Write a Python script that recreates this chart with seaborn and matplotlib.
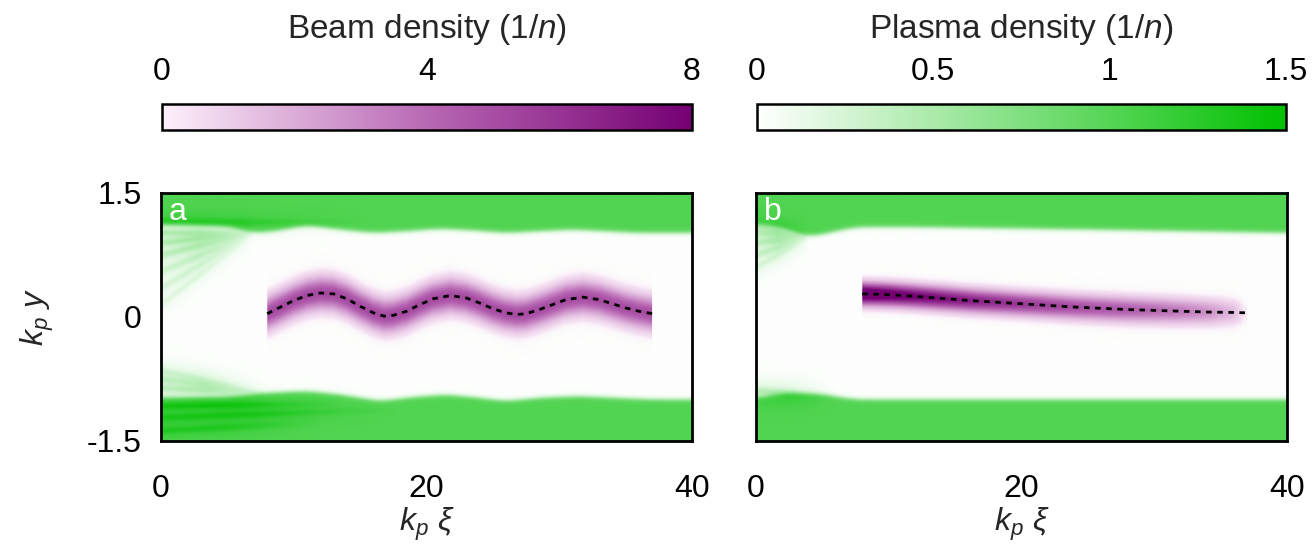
import numpy as np
import matplotlib
matplotlib.use("Agg")
import matplotlib.pyplot as plt
from matplotlib.colors import LinearSegmentedColormap, Normalize
from matplotlib.cm import ScalarMappable
import seaborn as sns

# ---------------- data ----------------
xi_ticks = [0, 20, 40]
xi_tick_labels = ["0", "20", "40"]
y_ticks = [-1.5, 0, 1.5]
y_tick_labels = ["-1.5", "0", "1.5"]
beam_cbar_ticks = [0, 4, 8]
beam_cbar_labels = ["0", "4", "8"]
plasma_cbar_ticks = [0, 0.5, 1, 1.5]
plasma_cbar_labels = ["0", "0.5", "1", "1.5"]
panel_labels = ["a", "b"]

# beam centroid (dashed lines)
cent_a_x = [8.0, 9.0, 10.0, 11.0, 12.0, 13.0, 14.0, 15.0, 16.0, 16.8, 17.5, 18.5,
            19.5, 20.5, 21.8, 23.0, 24.0, 25.0, 26.0, 26.8, 27.5, 28.5, 29.5,
            30.5, 31.8, 33.0, 34.0, 35.0, 36.0, 37.0]
cent_a_y = [0.04, 0.12, 0.20, 0.26, 0.29, 0.28, 0.22, 0.13, 0.05, 0.01, 0.02, 0.07,
            0.15, 0.22, 0.26, 0.23, 0.17, 0.10, 0.05, 0.03, 0.04, 0.09, 0.15,
            0.21, 0.24, 0.21, 0.16, 0.11, 0.07, 0.04]
cent_b_x = [8, 10, 12, 14, 16, 18, 20, 22, 24, 26, 28, 30, 32, 34, 36, 37]
cent_b_y = [0.28, 0.27, 0.25, 0.225, 0.20, 0.18, 0.16, 0.14, 0.12, 0.105, 0.09,
            0.08, 0.07, 0.06, 0.055, 0.05]

# beam peak density and rms width along xi
beam_a_x = [8.0, 37.0]
beam_a_peak = [5.2, 5.0]
beam_a_sigma = [0.13, 0.13]
beam_b_x = [8.0, 12.0, 16.0, 20.0, 24.0, 28.0, 32.0, 34.0, 36.0, 36.8]
beam_b_peak = [10.0, 8.0, 6.8, 5.8, 5.0, 4.4, 3.5, 2.8, 1.6, 0.4]
beam_b_sigma = [0.085, 0.088, 0.09, 0.092, 0.095, 0.098, 0.1, 0.1, 0.1, 0.1]
beam_span_a = [8.0, 37.0]
beam_span_b = [8.0, 37.0]

# plasma channel boundaries
upper_a_x = [0, 5, 7, 8.5, 11, 13.5, 16, 18.5, 21, 23.5, 26, 28.5, 31, 33.5, 36, 40]
upper_a_y = [1.12, 1.10, 1.02, 1.04, 1.11, 1.06, 1.02, 1.04, 1.07, 1.05, 1.02,
             1.04, 1.06, 1.04, 1.02, 1.02]
lower_a_x = [0, 5, 8, 11, 13.5, 16.5, 19, 21.5, 24, 26, 28.5, 31.5, 34, 37, 40]
lower_a_y = [-0.98, -0.97, -0.92, -0.90, -0.94, -1.02, -0.97, -0.94, -0.98, -1.02,
             -0.98, -0.96, -0.98, -1.0, -1.0]
upper_b_x = [0, 2, 4, 7.5, 12, 25, 40]
upper_b_y = [1.13, 1.08, 0.97, 1.09, 1.09, 1.06, 1.02]
lower_b_x = [0, 2, 5, 7.5, 40]
lower_b_y = [-0.98, -0.93, -0.94, -1.0, -1.0]

# faint / dense electron streaks: (x0, y0, x1, y1, density)
streaks_a = [(0, 0.15, 7.0, 1.02, 0.10), (0, 0.35, 7.0, 1.02, 0.13),
             (0, 0.55, 7.0, 1.02, 0.16), (0, 0.75, 7.0, 1.02, 0.2),
             (0, 0.90, 7.0, 1.02, 0.22), (0, 1.02, 7.0, 1.02, 0.22),
             (0, -0.65, 8.0, -0.93, 0.14), (0, -0.75, 8.0, -0.93, 0.17),
             (0, -0.86, 8.0, -0.93, 0.2),
             (0, -1.08, 14.0, -1.05, 0.2), (0, -1.22, 18.0, -1.12, 0.17),
             (0, -1.38, 12.0, -1.28, 0.17), (0, 1.16, 16.0, 1.14, 0.14)]
streaks_b = [(0, 0.60, 4.0, 0.97, 0.12), (0, 0.75, 4.0, 0.97, 0.16),
             (0, 0.90, 4.0, 0.97, 0.19), (0, 1.02, 4.0, 0.97, 0.19),
             (0, 1.10, 4.0, 0.97, 0.17),
             (0, -0.88, 6.0, -0.95, 0.15), (0, -0.92, 6.0, -0.95, 0.16)]

# ---------------- style ----------------
sns.set_theme(style="white")
plt.rcParams["font.family"] = ["Liberation Sans", "DejaVu Sans"]
plt.rcParams["mathtext.fontset"] = "custom"
plt.rcParams["mathtext.rm"] = "Liberation Sans"
plt.rcParams["mathtext.it"] = "Liberation Sans:italic"
FS = 23

beam_cmap = LinearSegmentedColormap.from_list(
    "beam", [(0.0, "#fdf0fb"), (0.5, "#b868b4"), (1.0, "#750073")])
plasma_cmap = LinearSegmentedColormap.from_list(
    "plasma_g", [(0.0, "#ffffff"), (1.0, "#00c000")])
beam_norm = Normalize(0, 8)
plasma_norm = Normalize(0, 1.5)

xg = np.linspace(0, 40, 801)
yg = np.linspace(-1.5, 1.5, 481)
X, Y = np.meshgrid(xg, yg)
kern = np.exp(-0.5 * (np.arange(-30, 31) / 12.0) ** 2)
kern /= kern.sum()


def sigm(z):
    return 1.0 / (1.0 + np.exp(-z))


def smooth_edge(xs, ys):
    e = np.interp(xg, xs, ys)
    ep = np.pad(e, 30, mode="edge")
    return np.convolve(ep, kern, mode="valid")[None, :]


def plasma_field(ux, uy, lx, ly, streaks):
    up = smooth_edge(ux, uy)
    lo = smooth_edge(lx, ly)
    w = 0.016
    inner, bulk = 0.015, 1.02
    f = inner + (bulk - inner) * (sigm((Y - up) / w) + sigm((lo - Y) / w))
    for (x0, y0, x1, y1, amp) in streaks:
        yl = y0 + (y1 - y0) * (X - x0) / (x1 - x0)
        taper = np.clip((x1 - X) / (0.6 * (x1 - x0)), 0, 1) * (X >= x0)
        f = f + amp * np.exp(-0.5 * ((Y - yl) / 0.03) ** 2) * taper
        f = f + 0.5 * amp * np.exp(-0.5 * ((Y - yl) / 0.12) ** 2) * taper
    return np.clip(f, 0, 1.5)


def beam_rgba(cx, cy, bx, bpeak, bsig, span):
    c = np.interp(xg, cx, cy)[None, :]
    p = np.interp(xg, bx, bpeak)[None, :]
    s = np.interp(xg, bx, bsig)[None, :]
    b = p * np.exp(-0.5 * ((Y - c) / s) ** 2)
    b[:, (xg < span[0]) | (xg > span[1])] = 0
    rgba = beam_cmap(beam_norm(b))
    rgba[..., 3] = np.clip(b / 0.5, 0, 1)
    return rgba


panels = [
    dict(pl=plasma_field(upper_a_x, upper_a_y, lower_a_x, lower_a_y, streaks_a),
         bm=beam_rgba(cent_a_x, cent_a_y, beam_a_x, beam_a_peak, beam_a_sigma, beam_span_a),
         cx=cent_a_x, cy=cent_a_y),
    dict(pl=plasma_field(upper_b_x, upper_b_y, lower_b_x, lower_b_y, streaks_b),
         bm=beam_rgba(cent_b_x, cent_b_y, beam_b_x, beam_b_peak, beam_b_sigma, beam_span_b),
         cx=cent_b_x, cy=cent_b_y),
]

W, H = 1315, 544
fig = plt.figure(figsize=(W / 100, H / 100), dpi=100)

ax_rects = [(161, 193, 531, 248), (756, 193, 531, 248)]
cb_rects = [(162, 104, 530, 26), (757, 104, 529, 26)]


def frac(r):
    x, y, w, h = r
    return [x / W, 1 - (y + h) / H, w / W, h / H]


for i, (p, r) in enumerate(zip(panels, ax_rects)):
    ax = fig.add_axes(frac(r))
    ax.imshow(p["pl"], cmap=plasma_cmap, norm=plasma_norm, origin="lower",
              extent=[0, 40, -1.5, 1.5], aspect="auto", interpolation="bilinear")
    ax.imshow(p["bm"], origin="lower", extent=[0, 40, -1.5, 1.5], aspect="auto",
              interpolation="bilinear")
    sns.lineplot(x=p["cx"], y=p["cy"], ax=ax, color="black", lw=2.0,
                 linestyle=(0, (2.0, 2.0)))
    ax.set_xlim(0, 40)
    ax.set_ylim(-1.5, 1.5)
    ax.set_xticks(xi_ticks)
    ax.set_xticklabels(xi_tick_labels, fontsize=FS)
    ax.set_yticks(y_ticks)
    if i == 0:
        ax.set_yticklabels(y_tick_labels, fontsize=FS)
        ax.set_ylabel(r"$k_p\ y$", fontsize=FS, labelpad=22)
    else:
        ax.set_yticklabels([])
        ax.set_ylabel("")
    ax.tick_params(axis="both", length=0, colors="black")
    ax.tick_params(axis="x", pad=24)
    ax.tick_params(axis="y", pad=14)
    ax.set_xlabel(r"$k_p\ \xi$", fontsize=FS, labelpad=1)
    for s in ax.spines.values():
        s.set_visible(True)
        s.set_color("black")
        s.set_linewidth(2.0)
    ax.text(0.015, 0.925, panel_labels[i], transform=ax.transAxes, color="white",
            fontsize=FS, ha="left", va="center")

cb_specs = [
    (beam_cmap, beam_norm, beam_cbar_ticks, beam_cbar_labels, "Beam density (1/$n$)"),
    (plasma_cmap, plasma_norm, plasma_cbar_ticks, plasma_cbar_labels, "Plasma density (1/$n$)"),
]
for (cmap, norm, ticks, labels, title), r in zip(cb_specs, cb_rects):
    cax = fig.add_axes(frac(r))
    cb = fig.colorbar(ScalarMappable(norm=norm, cmap=cmap), cax=cax, orientation="horizontal")
    cb.set_ticks(ticks)
    cb.set_ticklabels(labels)
    cax.xaxis.set_ticks_position("top")
    cax.xaxis.set_label_position("top")
    cax.tick_params(length=0, labelsize=FS, pad=12, colors="black")
    cb.outline.set_edgecolor("black")
    cb.outline.set_linewidth(1.8)
    cb.set_label(title, fontsize=FS + 1, labelpad=14)

fig.savefig("out.png", dpi=100)
